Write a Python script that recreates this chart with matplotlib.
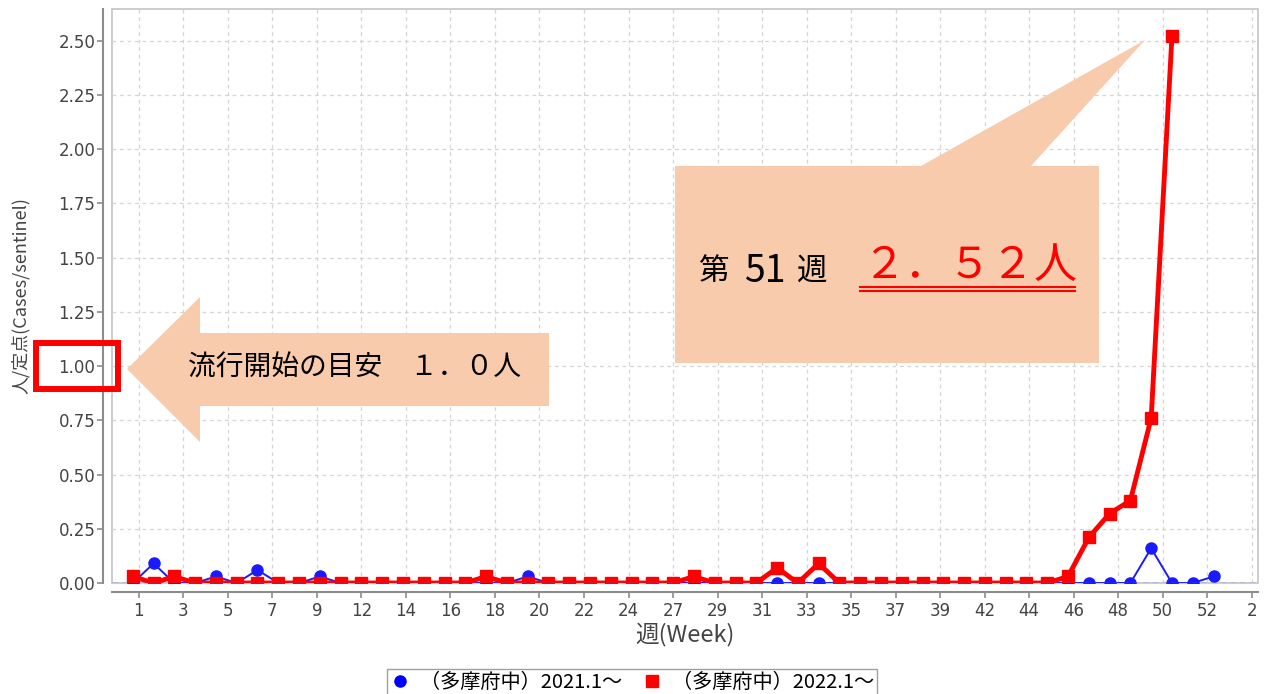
import numpy as np
import matplotlib.pyplot as plt
from matplotlib.patches import Polygon, Rectangle
from matplotlib.lines import Line2D

# データ (人/定点)
weeks_2021 = np.arange(1, 54)
cases_2021 = [0, 0.09, 0, 0, 0.03, 0, 0.06, 0, 0, 0.03,
              0, 0, 0, 0, 0, 0, 0, 0, 0, 0.03,
              0, 0, 0, 0, 0, 0, 0, 0, 0, 0,
              0, 0, 0, 0, 0, 0, 0, 0, 0, 0,
              0, 0, 0, 0, 0, 0, 0, 0, 0, 0.16,
              0, 0, 0.03]
weeks_2022 = np.arange(1, 52)
cases_2022 = [0.03, 0, 0.03, 0, 0, 0, 0, 0, 0, 0,
              0, 0, 0, 0, 0, 0, 0, 0.03, 0, 0,
              0, 0, 0, 0, 0, 0, 0, 0.03, 0, 0,
              0, 0.07, 0, 0.09, 0, 0, 0, 0, 0, 0,
              0, 0, 0, 0, 0, 0.03, 0.21, 0.32, 0.38, 0.76,
              2.52]
xtick_labels = ["1", "3", "5", "7", "9", "12", "14", "16", "18", "20", "22", "24", "27",
                "29", "31", "33", "35", "37", "39", "42", "44", "46", "48", "50", "52", "2"]
yticks = np.arange(0, 2.51, 0.25)

label_2021 = "（多摩府中）2021.1～"
label_2022 = "（多摩府中）2022.1～"

JP = ['Noto Sans CJK JP', 'DejaVu Sans']
W, H = 1266, 694
PEACH = '#F7CBAC'


def fpx(x, y):
    # ピクセル(左上原点) -> figure座標
    return (x / W, 1 - y / H)


fig = plt.figure(figsize=(W / 100, H / 100), dpi=100)
ax = fig.add_axes([112 / W, (H - 583) / H, (1258 - 112) / W, (583 - 9) / H])

l1, = ax.plot(weeks_2021, cases_2021, color='#1a1aff', lw=1.4, marker='o', ms=8,
              zorder=3)
l2, = ax.plot(weeks_2022, cases_2022, color='#ff0000', lw=3.5, marker='s', ms=8.5,
              zorder=4)
# 0 のマーカーを半分だけ見せるためにプロット領域で切り取る
l1.set_clip_path(ax.patch)
l2.set_clip_path(ax.patch)
ax.axhline(0, color='#5a5aff', lw=1, ls=(0, (4, 3)), zorder=5)

ax.set_xlim(0, 55.14)
ax.set_ylim(0, 2.646)
ax.set_xticks(np.linspace(1.29, 54.84, len(xtick_labels)))
ax.set_xticklabels(xtick_labels)
ax.set_yticks(yticks)
ax.set_yticklabels([f"{v:.2f}" for v in yticks])

ax.grid(True, color='#d4d4d4', ls=(0, (3, 3)), lw=0.9)
ax.set_axisbelow(True)
for s in ['top', 'right']:
    ax.spines[s].set_visible(False)
for s in ['left', 'bottom']:
    ax.spines[s].set_position(('outward', 6.5))
    ax.spines[s].set_color('#8c8c8c')
    ax.spines[s].set_linewidth(1.5)
ax.add_patch(Rectangle((0, 0), 1, 1, transform=ax.transAxes, fill=False,
                       ec='#c8c8c8', lw=1.3, clip_on=False, zorder=0.5))
ax.tick_params(direction='out', length=4, color='#8c8c8c', width=1.2,
               labelsize=12, labelcolor='#444444')
ax.tick_params(axis='y', pad=1.5)

ax.set_xlabel("週(Week)", family=JP, fontsize=17, color='#444444')
ax.xaxis.set_label_coords(0.5, -0.068)
ax.set_ylabel("人/定点(Cases/sentinel)", family=JP, fontsize=13, color='#444444')
ax.yaxis.set_label_coords(-0.072, 0.5)

# 凡例
handles = [Line2D([], [], ls='none', marker='o', color='#0000ff', ms=8),
           Line2D([], [], ls='none', marker='s', color='#ff0000', ms=8)]
fig.legend(handles, [label_2021, label_2022], loc='upper center',
           bbox_to_anchor=fpx(632, 669), borderaxespad=0,
           ncol=2, prop={'family': JP, 'size': 14.5},
           frameon=True, fancybox=False, edgecolor='#888888', borderpad=0.15,
           handletextpad=0.5, columnspacing=1.0, handlelength=1.0)

# 1.00 の赤枠
x0, y0 = fpx(36, 389)
x1, y1 = fpx(118, 343)
fig.patches.append(Rectangle((x0, y0), x1 - x0, y1 - y0, transform=fig.transFigure,
                             fill=False, ec='#ff0000', lw=4.3, zorder=6))

# 左向き矢印
arrow_px = [(127, 369), (200, 297), (200, 333), (549, 333), (549, 406),
            (200, 406), (200, 442)]
fig.patches.append(Polygon([fpx(*p) for p in arrow_px], closed=True,
                           transform=fig.transFigure, fc=PEACH, ec='none', zorder=6))
fig.text(*fpx(188, 368), "流行開始の目安　１．０人", family=JP, fontsize=20,
         ha='left', va='center', zorder=7)

# 吹き出し
callout_px = [(675, 166), (921, 166), (1145, 40), (1031, 166), (1099, 166),
              (1099, 363), (675, 363)]
fig.patches.append(Polygon([fpx(*p) for p in callout_px], closed=True,
                           transform=fig.transFigure, fc=PEACH, ec='none', zorder=6))
fig.text(*fpx(699, 271), "第", family=JP, fontsize=22, ha='left', va='center', zorder=7)
fig.text(*fpx(765, 271), "51", family=JP, fontsize=27, ha='center', va='center', zorder=7)
fig.text(*fpx(797, 271), "週", family=JP, fontsize=22, ha='left', va='center', zorder=7)
fig.text(*fpx(862, 266), "２．５２人", family=JP, fontsize=31, color='#ff0000',
         ha='left', va='center', zorder=7)
for yy in (287, 291):
    xa, ya = fpx(860, yy)
    xb, yb = fpx(1075, yy)
    fig.lines.append(Line2D([xa, xb], [ya, yb], transform=fig.transFigure,
                            color='#ff0000', lw=1.5, zorder=7))

fig.savefig("out.png", dpi=100)
